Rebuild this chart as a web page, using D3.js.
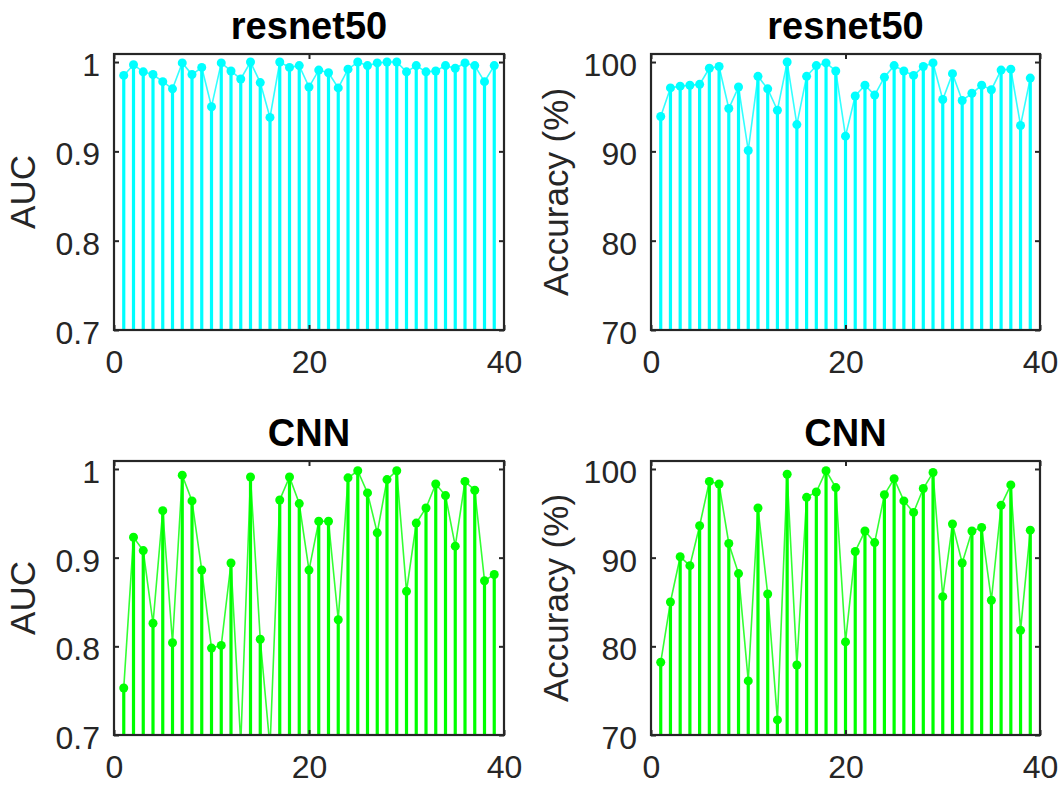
<!DOCTYPE html>
<html>
<head>
<meta charset="utf-8">
<script src="https://cdn.jsdelivr.net/npm/d3@7"></script>
<style>
  html, body { margin: 0; padding: 0; background: #ffffff; }
  svg { display: block; }
  text { font-family: "Liberation Sans", Arial, Helvetica, sans-serif; }
</style>
</head>
<body>
<svg id="chart" width="1062" height="787"></svg>
<script>
// ---- data ----
const runs = [1,2,3,4,5,6,7,8,9,10,11,12,13,14,15,16,17,18,19,20,21,22,23,24,25,26,27,28,29,30,31,32,33,34,35,36,37,38,39];

const resnetAUC = [0.985,0.997,0.989,0.986,0.978,0.970,0.999,0.986,0.994,0.950,
                   0.999,0.990,0.981,1.000,0.977,0.938,1.000,0.994,0.996,0.972,
                   0.991,0.988,0.971,0.992,1.000,0.996,0.999,1.000,1.000,0.989,
                   0.996,0.989,0.990,0.996,0.993,0.999,0.996,0.978,0.996];

const resnetAcc = [93.9,97.1,97.3,97.4,97.5,99.3,99.5,94.8,97.2,90.1,
                   98.4,97.0,94.6,100.0,93.0,98.4,99.6,99.9,99.0,91.7,
                   96.2,97.4,96.3,98.3,99.6,99.0,98.5,99.5,99.9,95.8,
                   98.7,95.7,96.5,97.4,96.9,99.1,99.2,92.9,98.2];

const cnnAUC = [0.753,0.923,0.908,0.826,0.953,0.804,0.993,0.964,0.886,0.798,
                0.801,0.894,0.690,0.991,0.808,0.686,0.965,0.991,0.961,0.886,
                0.941,0.941,0.830,0.990,0.998,0.973,0.928,0.988,0.998,0.862,
                0.939,0.956,0.983,0.970,0.913,0.986,0.976,0.874,0.881];

const cnnAcc = [78.2,85.0,90.1,89.1,93.6,98.6,98.3,91.6,88.2,76.1,
                95.6,85.9,71.7,99.4,77.9,96.8,97.4,99.8,97.9,80.5,
                90.7,93.0,91.7,97.1,98.9,96.4,95.1,97.8,99.6,85.6,
                93.8,89.4,93.0,93.4,85.2,95.9,98.2,81.8,93.1];

const xTicks = [0, 20, 40];
const aucTicks = [0.7, 0.8, 0.9, 1];
const aucTickLabels = ["0.7", "0.8", "0.9", "1"];
const accTicks = [70, 80, 90, 100];
const accTickLabels = ["70", "80", "90", "100"];

const titles = ["resnet50", "resnet50", "CNN", "CNN"];
const yLabels = ["AUC", "Accuracy (%)", "AUC", "Accuracy (%)"];

// ---- layout ----
const svg = d3.select("#chart");
const axisColor = "#262626";
const cyan = "#00ffff";
const green = "#00ff00";

const panels = [
  { values: resnetAUC, color: cyan,  title: titles[0], ylabel: yLabels[0], ydom: [0.7, 1.009], ticks: aucTicks, tlab: aucTickLabels, x0: 114, x1: 504, y0: 54,  y1: 330, ylabX: 22 },
  { values: resnetAcc, color: cyan,  title: titles[1], ylabel: yLabels[1], ydom: [70, 100.9],  ticks: accTicks, tlab: accTickLabels, x0: 651, x1: 1040, y0: 54, y1: 330, ylabX: 555 },
  { values: cnnAUC,    color: green, title: titles[2], ylabel: yLabels[2], ydom: [0.7, 1.009], ticks: aucTicks, tlab: aucTickLabels, x0: 114, x1: 504, y0: 461, y1: 735, ylabX: 22 },
  { values: cnnAcc,    color: green, title: titles[3], ylabel: yLabels[3], ydom: [70, 100.9],  ticks: accTicks, tlab: accTickLabels, x0: 651, x1: 1040, y0: 461, y1: 735, ylabX: 555 }
];

panels.forEach((p, i) => {
  const x = d3.scaleLinear().domain([0, 40]).range([p.x0, p.x1]);
  const y = d3.scaleLinear().domain(p.ydom).range([p.y1, p.y0]);
  const g = svg.append("g");

  const clipId = "clip" + i;
  svg.append("defs").append("clipPath").attr("id", clipId)
    .append("rect").attr("x", p.x0).attr("y", p.y0)
    .attr("width", p.x1 - p.x0).attr("height", p.y1 - p.y0);

  const data = runs.map((r, k) => ({ r, v: p.values[k] }));
  const marks = g.append("g").attr("clip-path", `url(#${clipId})`);

  // stems
  marks.selectAll("line.stem").data(data).join("line")
    .attr("class", "stem")
    .attr("x1", d => x(d.r)).attr("x2", d => x(d.r))
    .attr("y1", y(p.ydom[0]) + 5).attr("y2", d => y(d.v))
    .attr("stroke", p.color).attr("stroke-width", 3.2);

  // connecting line
  marks.append("path").datum(data)
    .attr("d", d3.line().x(d => x(d.r)).y(d => y(d.v)))
    .attr("fill", "none").attr("stroke", p.color)
    .attr("stroke-width", 1.6).attr("stroke-opacity", 0.8);

  // markers
  marks.selectAll("circle").data(data).join("circle")
    .attr("cx", d => x(d.r)).attr("cy", d => y(d.v)).attr("r", 4.5)
    .attr("fill", p.color);

  // axes (inward ticks on all sides)
  const tickLen = 5;
  const yAxisL = d3.axisLeft(y).tickValues(p.ticks).tickSize(-tickLen).tickFormat((d, k) => p.tlab[k]).tickPadding(14);
  const yAxisR = d3.axisRight(y).tickValues(p.ticks).tickSize(-tickLen).tickFormat("");
  const xAxisB = d3.axisBottom(x).tickValues(xTicks).tickSize(-tickLen).tickFormat(d3.format("d")).tickPadding(20);
  const xAxisT = d3.axisTop(x).tickValues(xTicks).tickSize(-tickLen).tickFormat("");

  const styleAxis = sel => {
    sel.select(".domain").remove();
    sel.selectAll(".tick line").attr("stroke", axisColor).attr("stroke-width", 2);
    sel.selectAll(".tick text").attr("fill", axisColor)
      .style("font-size", "32px")
      .style("font-family", "'Liberation Sans', Arial, sans-serif");
  };

  g.append("g").attr("transform", `translate(${p.x0},0)`).call(yAxisL).call(styleAxis)
    .selectAll(".tick text").attr("dy", "0.42em");
  g.append("g").attr("transform", `translate(${p.x1},0)`).call(yAxisR).call(styleAxis);
  g.append("g").attr("transform", `translate(0,${p.y1})`).call(xAxisB).call(styleAxis);
  g.append("g").attr("transform", `translate(0,${p.y0})`).call(xAxisT).call(styleAxis);

  // box
  g.append("rect").attr("x", p.x0).attr("y", p.y0)
    .attr("width", p.x1 - p.x0).attr("height", p.y1 - p.y0)
    .attr("fill", "none").attr("stroke", axisColor).attr("stroke-width", 2.2);

  // title
  g.append("text")
    .attr("x", (p.x0 + p.x1) / 2).attr("y", p.y0 - 15)
    .attr("text-anchor", "middle")
    .style("font-size", "38px").style("font-weight", "bold")
    .attr("fill", "#000")
    .text(p.title);

  // y label
  g.append("text")
    .attr("transform", `translate(${p.ylabX},${(p.y0 + p.y1) / 2}) rotate(-90)`)
    .attr("text-anchor", "middle").attr("dy", "0.36em")
    .style("font-size", "35px").attr("fill", axisColor)
    .text(p.ylabel);
});
</script>
</body>
</html>
